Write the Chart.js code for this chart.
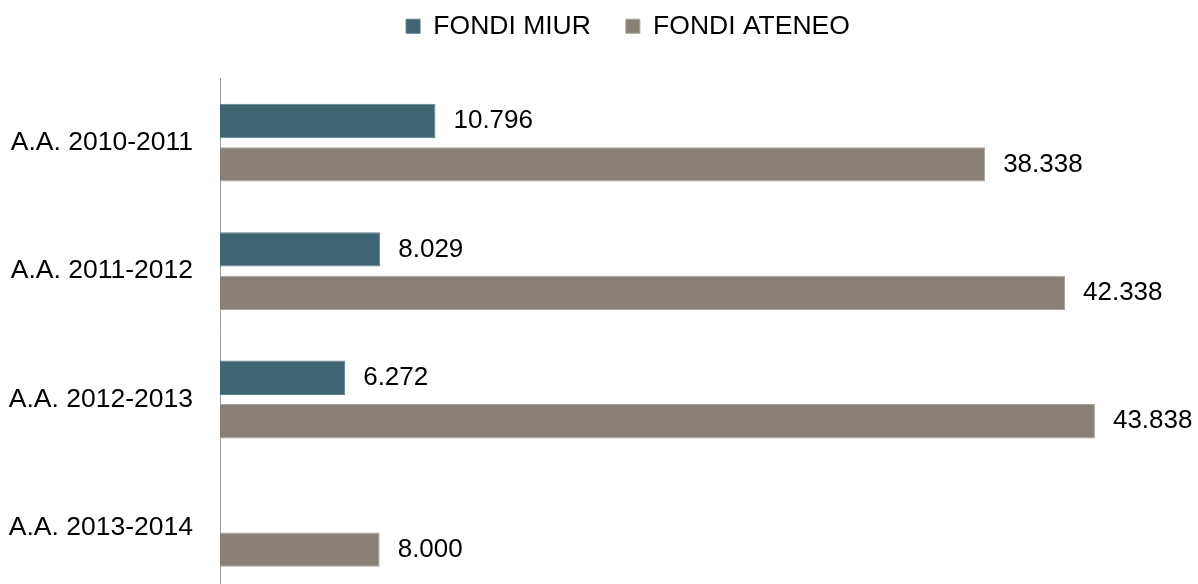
<!DOCTYPE html>
<html>
<head>
<meta charset="utf-8">
<script src="https://cdn.jsdelivr.net/npm/chart.js@4/dist/chart.umd.min.js"></script>
<style>
    html, body { margin: 0; padding: 0; background: #fff; overflow: hidden; }
</style>
</head>
<body>
<canvas id="myChart" width="1198" height="635"></canvas>
<script>
// dati
const categories = ['A.A. 2010-2011', 'A.A. 2011-2012', 'A.A. 2012-2013', 'A.A. 2013-2014'];
const fondiMiur = [10796, 8029, 6272, null];
const fondiAteneo = [38338, 42338, 43838, 8000];
const seriesNames = ['FONDI MIUR', 'FONDI ATENEO'];

const FONT = '"Liberation Sans", Arial, sans-serif';

function formatIt(v) {
    return String(v).replace(/\B(?=(\d{3})+(?!\d))/g, '.');
}

// etichette dei valori a destra delle barre
const valueLabels = {
    id: 'valueLabels',
    afterDatasetsDraw(chart) {
        const ctx = chart.ctx;
        ctx.save();
        ctx.font = '26px ' + FONT;
        ctx.fillStyle = '#000';
        ctx.textBaseline = 'middle';
        ctx.textAlign = 'left';
        chart.data.datasets.forEach(function (dataset, i) {
            chart.getDatasetMeta(i).data.forEach(function (bar, j) {
                const v = dataset.data[j];
                if (v === null || v === undefined) return;
                ctx.fillText(formatIt(v), bar.x + 18, bar.y);
            });
        });
        ctx.restore();
    }
};

// spazio extra sotto la legenda e legenda spostata a destra
const legendSpace = {
    id: 'legendSpace',
    beforeInit(chart) {
        const fit = chart.legend.fit;
        chart.legend.fit = function () {
            fit.bind(this)();
            this.height += 29;
        };
    },
    beforeDraw(chart) {
        chart.legend.left = 78;
    }
};

const ctx = document.getElementById('myChart').getContext('2d');
const chart = new Chart(ctx, {
    type: 'bar',
    data: {
        labels: categories,
        datasets: [{
            label: seriesNames[0],
            data: fondiMiur,
            backgroundColor: '#3F6472',
            borderColor: '#5E7D89',
            borderWidth: 1,
            categoryPercentage: 0.677,
            barPercentage: 0.79
        }, {
            label: seriesNames[1],
            data: fondiAteneo,
            backgroundColor: '#888077',
            borderColor: '#A7A19A',
            borderWidth: 1,
            categoryPercentage: 0.677,
            barPercentage: 0.79
        }]
    },
    plugins: [valueLabels, legendSpace],
    options: {
        indexAxis: 'y',
        responsive: false,
        animation: false,
        layout: {
            padding: { left: 0, right: 20, top: -22, bottom: 0 }
        },
        scales: {
            x: {
                display: false,
                min: 0,
                max: 48000
            },
            y: {
                grid: { display: false, drawTicks: false },
                border: { display: true, color: '#999999', width: 1 },
                ticks: {
                    color: '#000',
                    padding: 27,
                    font: { family: FONT, size: 26.5 }
                },
                afterFit: function (scale) {
                    scale.width = 220;
                }
            }
        },
        plugins: {
            tooltip: { enabled: false },
            legend: {
                position: 'top',
                labels: {
                    color: '#000',
                    boxWidth: 14,
                    boxHeight: 14,
                    padding: 35,
                    font: { family: FONT, size: 26.5 }
                }
            }
        }
    }
});
</script>
</body>
</html>
